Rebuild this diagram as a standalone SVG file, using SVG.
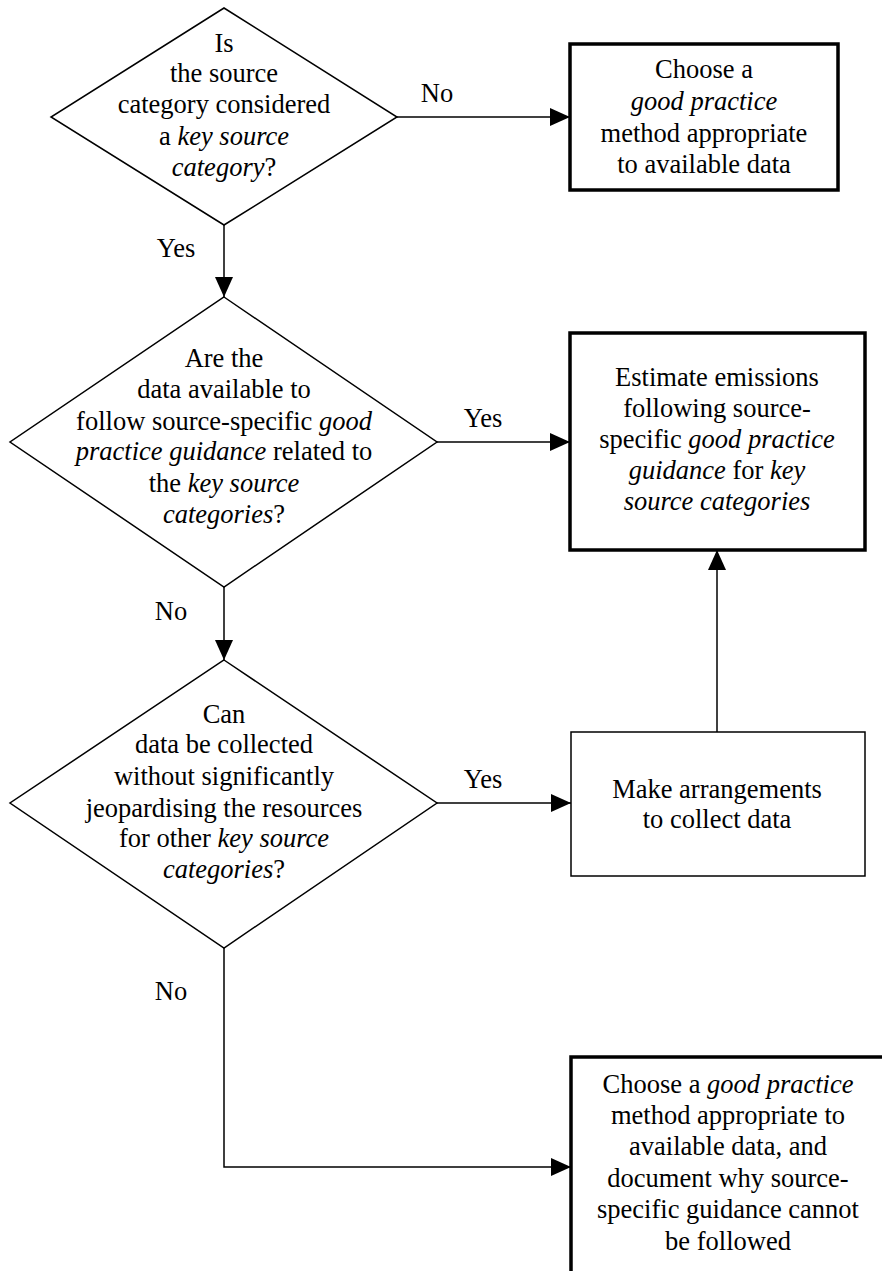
<svg xmlns="http://www.w3.org/2000/svg" width="882" height="1271" viewBox="0 0 882 1271" font-family="Liberation Serif, Times New Roman, serif" font-size="26.5">
<style>
text{fill:#000;text-anchor:middle}
.i{font-style:italic}
.shape{fill:#fff;stroke:#000;stroke-width:1.5}
.thick{fill:#fff;stroke:#000;stroke-width:3.5}
.conn{fill:none;stroke:#000;stroke-width:1.5}
</style>
<defs>
<marker id="ah" markerWidth="20" markerHeight="18" refX="20" refY="9" orient="auto" markerUnits="userSpaceOnUse">
<path d="M0,0 L20,9 L0,18 z" fill="#000"/>
</marker>
</defs>
<rect width="882" height="1271" fill="#fff"/>
<g id="connectors">
<line class="conn" x1="397" y1="117" x2="570" y2="117" marker-end="url(#ah)"/>
<line class="conn" x1="224" y1="225" x2="224" y2="297" marker-end="url(#ah)"/>
<line class="conn" x1="437" y1="442" x2="570" y2="442" marker-end="url(#ah)"/>
<line class="conn" x1="224" y1="587" x2="224" y2="660" marker-end="url(#ah)"/>
<line class="conn" x1="437" y1="803" x2="571" y2="803" marker-end="url(#ah)"/>
<polyline class="conn" points="224,948 224,1167 571,1167" marker-end="url(#ah)"/>
<line class="conn" x1="717" y1="732" x2="717" y2="550" marker-end="url(#ah)"/>
<text x="437" y="102">No</text>
<text x="176" y="257">Yes</text>
<text x="483" y="427">Yes</text>
<text x="171" y="620">No</text>
<text x="483" y="788">Yes</text>
<text x="171" y="1000">No</text>
</g>
<g id="d1">
<polygon class="shape" points="224,8 397,117 224,225 51,117"/>
<text x="224" y="52">Is</text>
<text x="224" y="82">the source</text>
<text x="224" y="113">category considered</text>
<text x="224" y="145">a <tspan class="i">key source</tspan></text>
<text x="224" y="176"><tspan class="i">category</tspan>?</text>
</g>
<g id="b1">
<rect class="thick" x="570" y="44" width="268" height="146"/>
<text x="704" y="78">Choose a</text>
<text x="704" y="110" class="i">good practice</text>
<text x="704" y="142">method appropriate</text>
<text x="704" y="173">to available data</text>
</g>
<g id="d2">
<polygon class="shape" points="224,297 437,442 224,587 10,442"/>
<text x="224" y="367">Are the</text>
<text x="224" y="398">data available to</text>
<text x="224" y="430">follow source-specific <tspan class="i">good</tspan></text>
<text x="224" y="460"><tspan class="i">practice guidance</tspan> related to</text>
<text x="224" y="492">the <tspan class="i">key source</tspan></text>
<text x="224" y="523"><tspan class="i">categories</tspan>?</text>
</g>
<g id="b2">
<rect class="thick" x="570" y="333" width="295" height="217"/>
<text x="717" y="386">Estimate emissions</text>
<text x="717" y="417">following source-</text>
<text x="717" y="448">specific <tspan class="i">good practice</tspan></text>
<text x="717" y="479"><tspan class="i">guidance</tspan> for <tspan class="i">key</tspan></text>
<text x="717" y="510" class="i">source categories</text>
</g>
<g id="d3">
<polygon class="shape" points="224,660 437,803 224,948 10,803"/>
<text x="224" y="723">Can</text>
<text x="224" y="753">data be collected</text>
<text x="224" y="785">without significantly</text>
<text x="224" y="817">jeopardising the resources</text>
<text x="224" y="847">for other <tspan class="i">key source</tspan></text>
<text x="224" y="878"><tspan class="i">categories</tspan>?</text>
</g>
<g id="b3">
<rect class="shape" x="571" y="732" width="294" height="144"/>
<text x="717" y="798">Make arrangements</text>
<text x="717" y="828">to collect data</text>
</g>
<g id="b4">
<rect class="thick" x="571" y="1057" width="316" height="240"/>
<text x="728" y="1093">Choose a <tspan class="i">good practice</tspan></text>
<text x="728" y="1124">method appropriate to</text>
<text x="728" y="1155">available data, and</text>
<text x="728" y="1187">document why source-</text>
<text x="728" y="1218">specific guidance cannot</text>
<text x="728" y="1250">be followed</text>
</g>
</svg>
